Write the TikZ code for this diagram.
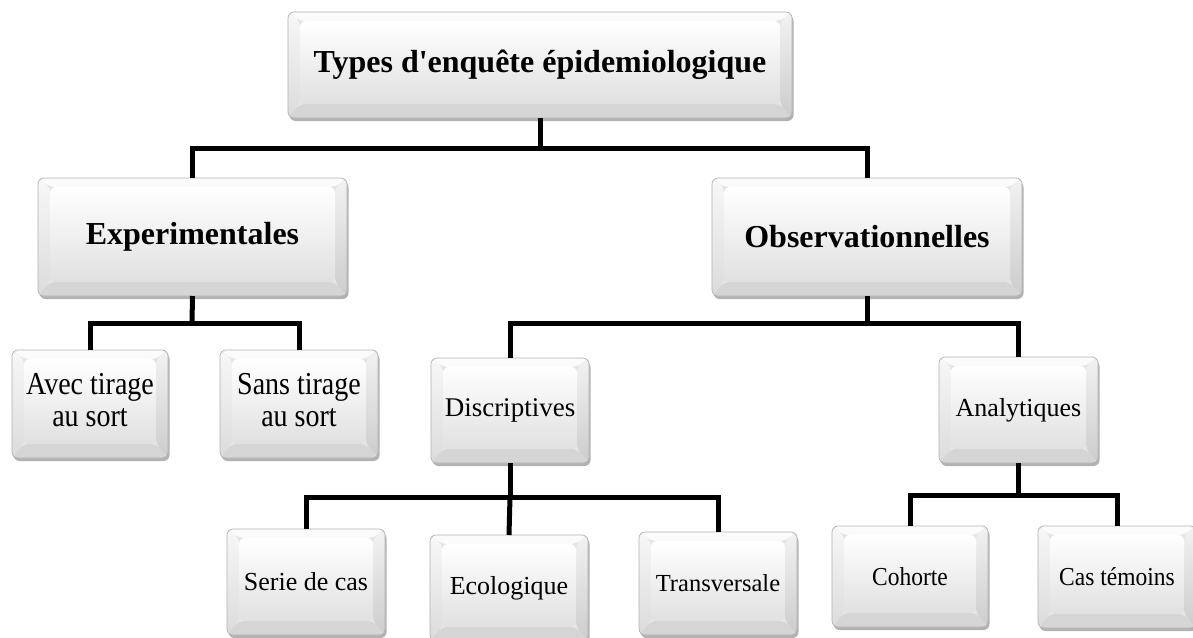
\documentclass[tikz,border=0pt]{standalone}
\usepackage{fontspec}
\setmainfont{Liberation Serif}
\usetikzlibrary{shadows,calc}
\newcommand\vstretch[2]{\scalebox{1}[#1]{#2}}
\tikzset{
  kbox/.style={rectangle, rounded corners=6pt, draw=gray!60, line width=0.7pt,
    outer sep=0pt, inner sep=2pt, fill=gray!20, align=center,
    drop shadow={shadow xshift=1.5pt, shadow yshift=-3pt, opacity=0.3, fill=black},
    path picture={
      \coordinate (pSW) at (path picture bounding box.south west);
      \coordinate (pNE) at (path picture bounding box.north east);
      \coordinate (pNW) at (pSW |- pNE);
      \coordinate (pSE) at (pNE |- pSW);
      \coordinate (iSW) at ([xshift=12pt,yshift=14pt]pSW);
      \coordinate (iNE) at ([xshift=-12pt,yshift=-9pt]pNE);
      \coordinate (iNW) at (iSW |- iNE);
      \coordinate (iSE) at (iNE |- iSW);
      \fill[gray!3] (pNW) -- (iNW) -- (iNE) -- (pNE) -- cycle;
      \shade[top color=gray!6, bottom color=gray!28] (pNW) -- (iNW) -- (iSW) -- (pSW) -- cycle;
      \shade[top color=gray!10, bottom color=gray!40] (pNE) -- (iNE) -- (iSE) -- (pSE) -- cycle;
      \fill[gray!33] (pSW) -- (iSW) -- (iSE) -- (pSE) -- cycle;
      \shade[top color=white, bottom color=gray!24] (iNW) rectangle (iSE);
    }},
  bigtxt/.style={font=\fontsize{32}{36}\selectfont\bfseries},
  conn/.style={line width=5pt, black, line join=miter},
}
\begin{document}
\begin{tikzpicture}[x=1pt,y=-1pt]
\fill[white] (0,0) rectangle (1193,637);
\useasboundingbox (0,0) rectangle (1193,637);

% level 0
\node[kbox, bigtxt, minimum width=504pt, minimum height=106pt] (top) at (540,65) {Types d\textquotesingle enquête épidemiologique};
% level 1
\node[kbox, bigtxt, minimum width=309pt, minimum height=118pt] (exp) at (192.5,237) {Experimentales};
\node[kbox, bigtxt, minimum width=310pt, minimum height=118pt] (obs) at (867,237) {Observationnelles};
% level 2
\node[kbox, font=\fontsize{28}{28}\selectfont, minimum width=156pt, minimum height=108pt] (avec) at (90,404)
  {\vstretch{1.14}{\begin{tabular}{@{}c@{}}Avec tirage\\au sort\end{tabular}}};
\node[kbox, font=\fontsize{28}{28}\selectfont, minimum width=158pt, minimum height=108pt] (sans) at (299,404)
  {\vstretch{1.14}{\begin{tabular}{@{}c@{}}Sans tirage\\au sort\end{tabular}}};
\node[kbox, font=\fontsize{27}{30}\selectfont, minimum width=158pt, minimum height=105pt] (disc) at (510,410.5) {Discriptives};
\node[kbox, font=\fontsize{26}{30}\selectfont, minimum width=159pt, minimum height=106pt] (ana) at (1018.5,410) {Analytiques};
% level 3
\node[kbox, font=\fontsize{26}{30}\selectfont, minimum width=158pt, minimum height=106pt] (serie) at (306,582) {Serie de cas};
\node[kbox, font=\fontsize{26}{30}\selectfont, minimum width=158pt, minimum height=106pt] (eco) at (509,588) {Ecologique};
\node[kbox, font=\fontsize{24.5}{28}\selectfont, minimum width=158pt, minimum height=103pt] (trans) at (718,583.5) {Transversale};
\node[kbox, font=\fontsize{23.5}{27}\selectfont, minimum width=156pt, minimum height=101pt] (coh) at (910,576.5) {\vstretch{1.1}{Cohorte}};
\node[kbox, font=\fontsize{23.5}{27}\selectfont, minimum width=158pt, minimum height=102pt] (cas) at (1117,577) {\vstretch{1.1}{Cas témoins}};

% bus coordinates
\coordinate (b0) at (540,148);
\coordinate (b1) at (192,323);
\coordinate (b2) at (867,323);
\coordinate (b3) at (510,497);
\coordinate (b4) at (1018.5,495);

\draw[conn] (top.south) -- (b0);
\draw[conn] (exp.north) |- (b0) -| (obs.north);
\draw[conn] (exp.south) -- (b1);
\draw[conn] (avec.north) |- (b1) -| (sans.north);
\draw[conn] (obs.south) -- (b2);
\draw[conn] (disc.north) |- (b2) -| (ana.north);
\draw[conn] (disc.south) -- (b3);
\draw[conn] (serie.north) |- (b3) -| (trans.north);
\draw[conn] (b3) -- (eco.north);
\draw[conn] (ana.south) -- (b4);
\draw[conn] (coh.north) |- (b4) -| (cas.north);
\end{tikzpicture}
\end{document}
